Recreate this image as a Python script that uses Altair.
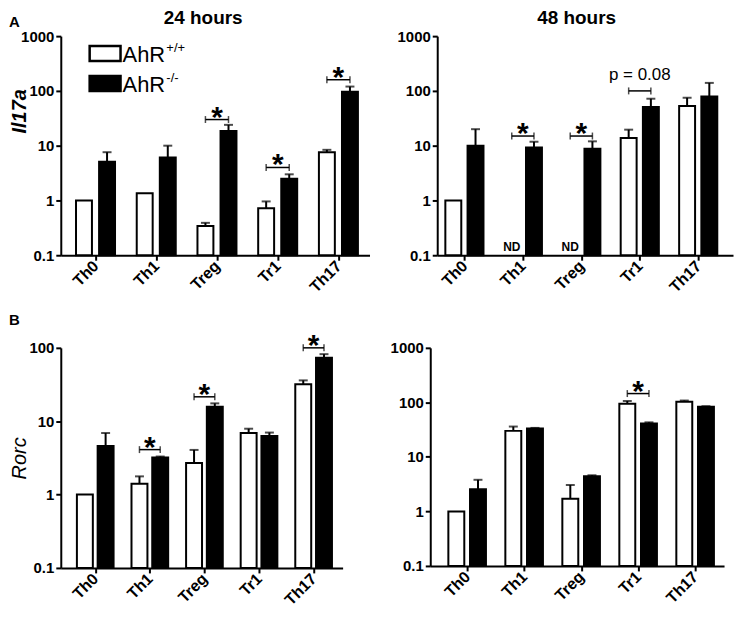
import altair as alt
import pandas as pd

CATS = ["Th0", "Th1", "Treg", "Tr1", "Th17"]

# Panel A, Il17a, 24 hours (WT = AhR+/+, KO = AhR-/-); *_ERR = top of SEM whisker
A24_WT = [1.0, 1.36, 0.34, 0.72, 7.6]
A24_WT_ERR = [None, None, 0.39, 0.96, 8.4]
A24_KO = [5.1, 6.1, 18.5, 2.5, 97]
A24_KO_ERR = [7.6, 10.0, 24.0, 3.0, 120]
A24_SIG_IDX = [2, 3, 4]
A24_SIG_Y = [30, 4.0, 160]
A24_SIG_LAB = ["*", "*", "*"]

# Panel A, Il17a, 48 hours (None = not detected)
A48_WT = [1.0, None, None, 13.8, 53]
A48_WT_ERR = [None, None, None, 19.6, 75]
A48_KO = [10.0, 9.3, 8.8, 51, 79]
A48_KO_ERR = [20.0, 11.8, 12.0, 72, 140]
A48_SIG_IDX = [1, 2, 3]
A48_SIG_Y = [15, 15, 100]
A48_SIG_LAB = ["*", "*", "p = 0.08"]
A48_ND_IDX = [1, 2]

# Panel B, Rorc, 24 hours
B24_WT = [1.0, 1.4, 2.7, 6.9, 32]
B24_WT_ERR = [None, 1.77, 4.06, 7.9, 36]
B24_KO = [4.6, 3.2, 15.8, 6.3, 73]
B24_KO_ERR = [6.9, 3.3, 17.5, 7.0, 82]
B24_SIG_IDX = [1, 2, 4]
B24_SIG_Y = [4.1, 21.5, 100]
B24_SIG_LAB = ["*", "*", "*"]

# Panel B, Rorc, 48 hours
B48_WT = [1.0, 30, 1.7, 94, 103]
B48_WT_ERR = [None, 36, 3.05, 106, 108]
B48_KO = [2.55, 33, 4.4, 41, 83]
B48_KO_ERR = [3.8, 34, 4.6, 43, 85]
B48_SIG_IDX = [3]
B48_SIG_Y = [145]
B48_SIG_LAB = ["*"]

LEGEND_WT = "AhR"
LEGEND_WT_SUP = "+/+"
LEGEND_KO = "AhR"
LEGEND_KO_SUP = "-/-"

FONT = "Liberation Sans"
OFF = 0.19


def bars_df(wt, wt_err, ko, ko_err):
    rows = []
    for i, c in enumerate(CATS):
        if wt[i] is not None:
            rows.append(dict(cat=c, grp="WT", x=i - OFF, v=wt[i], e=wt_err[i], base=0.1))
        rows.append(dict(cat=c, grp="KO", x=i + OFF, v=ko[i], e=ko_err[i], base=0.1))
    return pd.DataFrame(rows)


def panel(wt, wt_err, ko, ko_err, sig_idx, sig_y, sig_lab, ymax, width, height,
          xdom, ytitle=None, ytitle_weight="normal", ytitle_y=None, extras=()):
    df = bars_df(wt, wt_err, ko, ko_err)
    yvals = [v for v in [0.1, 1, 10, 100, 1000] if v <= ymax]
    xscale = alt.Scale(domain=xdom, nice=False, zero=False)
    yscale = alt.Scale(type="log", domain=[0.1, ymax], nice=False)
    label_expr = "[" + ",".join("'%s'" % c for c in CATS) + "][datum.value]"
    xaxis = alt.Axis(values=list(range(len(CATS))), labelExpr=label_expr, labelAngle=-45,
                     labelAlign="right", labelBaseline="middle", title=None, grid=False,
                     labelFontSize=16, labelPadding=3)
    yargs = dict(values=yvals, format="~g", grid=False)
    if ytitle:
        yargs.update(title=ytitle, titleFontStyle="italic", titleFontWeight=ytitle_weight,
                     titleFontSize=20, titleX=-31, titleFont=FONT, titleColor="black")
        if ytitle_y is not None:
            yargs.update(titleY=ytitle_y)
    else:
        yargs.update(title=None)
    yaxis = alt.Axis(**yargs)

    bars = alt.Chart(df).mark_bar(stroke="black", strokeWidth=2, size=16).encode(
        x=alt.X("x:Q", scale=xscale, axis=xaxis),
        y=alt.Y("v:Q", scale=yscale, axis=yaxis),
        y2="base:Q",
        fill=alt.Fill("grp:N", scale=alt.Scale(domain=["WT", "KO"], range=["white", "black"]),
                      legend=None),
    )
    edf = df.dropna(subset=["e"])
    errs = alt.Chart(edf).mark_rule(color="black", strokeWidth=2).encode(
        x="x:Q", y="v:Q", y2="e:Q")
    caps = alt.Chart(edf).mark_tick(orient="horizontal", size=9, thickness=2, color="black").encode(
        x="x:Q", y="e:Q")

    sdf = pd.DataFrame(dict(i=sig_idx, y=sig_y, lab=sig_lab))
    sdf["x1"] = sdf["i"] - OFF
    sdf["x2"] = sdf["i"] + OFF
    br = alt.Chart(sdf).mark_rule(color="black", strokeWidth=1.5).encode(
        x="x1:Q", x2="x2:Q", y="y:Q")
    brc = alt.Chart(sdf).transform_fold(["x1", "x2"], as_=["k", "xx"]).mark_tick(
        orient="vertical", size=7, thickness=1.5, color="black").encode(x="xx:Q", y="y:Q")
    stars = alt.Chart(sdf).transform_filter("datum.lab == '*'").mark_text(
        font=FONT, fontSize=30, fontWeight="bold", baseline="alphabetic", dy=7, color="black"
    ).encode(x="i:Q", y="y:Q", text="lab:N")
    ptxt = alt.Chart(sdf).transform_filter("datum.lab != '*'").mark_text(
        font=FONT, fontSize=17, baseline="alphabetic", dy=-11, color="black"
    ).encode(x="i:Q", y="y:Q", text="lab:N")

    layers = [bars, errs, caps, br, brc, stars, ptxt] + list(extras)
    return alt.layer(*layers).properties(width=width, height=height)


def txt(s, x, y, size, weight="normal", align="left", baseline="alphabetic", style="normal"):
    return alt.Chart(pd.DataFrame({"t": [s]})).mark_text(
        font=FONT, fontSize=size, fontWeight=weight, align=align, baseline=baseline,
        fontStyle=style, color="black"
    ).encode(text="t:N", x=alt.value(x), y=alt.value(y))


def box(x, x2, y, y2, fill):
    return alt.Chart(pd.DataFrame({"t": [0]})).mark_rect(
        fill=fill, stroke="black", strokeWidth=2.5).encode(
        x=alt.value(x), x2=alt.value(x2), y=alt.value(y), y2=alt.value(y2))


legend = [
    box(29, 60, 10, 25, "white"),
    txt(LEGEND_WT, 62, 26, 22),
    txt(LEGEND_WT_SUP, 106, 16, 13),
    box(29, 60, 40, 55, "black"),
    txt(LEGEND_KO, 62, 56, 22),
    txt(LEGEND_KO_SUP, 106, 46, 13),
    txt("24 hours", 143, -12, 19, weight="bold", align="center"),
    txt("A", -52, -9, 15, weight="bold"),
]

nd_df = pd.DataFrame({"i": A48_ND_IDX})
nd_df["x"] = nd_df["i"] - OFF
nd_df["v"] = 0.1
nd_df["t"] = "ND"
nd = alt.Chart(nd_df).mark_text(font=FONT, fontSize=12, fontWeight="bold", baseline="bottom",
                                dy=-1, color="black").encode(x="x:Q", y="v:Q", text="t:N")

a24 = panel(A24_WT, A24_WT_ERR, A24_KO, A24_KO_ERR, A24_SIG_IDX, A24_SIG_Y, A24_SIG_LAB,
            1000, 310, 220, [-0.49, 4.43], ytitle="Il17a", ytitle_weight="bold",
            ytitle_y=75, extras=legend)
a48 = panel(A48_WT, A48_WT_ERR, A48_KO, A48_KO_ERR, A48_SIG_IDX, A48_SIG_Y, A48_SIG_LAB,
            1000, 297, 220, [-0.38, 4.51],
            extras=[nd, txt("48 hours", 140, -12, 19, weight="bold", align="center")])
b24 = panel(B24_WT, B24_WT_ERR, B24_KO, B24_KO_ERR, B24_SIG_IDX, B24_SIG_Y, B24_SIG_LAB,
            100, 283, 221, [-0.54, 4.44], ytitle="Rorc", ytitle_weight="normal",
            extras=[txt("B", -52, -23, 15, weight="bold")])
b48 = panel(B48_WT, B48_WT_ERR, B48_KO, B48_KO_ERR, B48_SIG_IDX, B48_SIG_Y, B48_SIG_LAB,
            1000, 295, 219, [-0.56, 4.42])

top = alt.hconcat(a24, a48, spacing=68, bounds="flush")
bottom = alt.hconcat(b24, b48, spacing=88, bounds="flush")

chart = alt.vconcat(top, bottom, spacing=17).properties(
    padding={"left": 1, "top": 0, "right": 1, "bottom": 1}, background="white"
).configure_view(stroke=None).configure_axis(
    domainColor="black", domainWidth=2, tickColor="black", tickWidth=2, tickSize=5,
    labelFont=FONT, labelFontWeight="bold", labelFontSize=15, labelColor="black",
    labelPadding=2, grid=False,
)

chart.save("out.html", embed_options={"renderer": "svg", "actions": False})
